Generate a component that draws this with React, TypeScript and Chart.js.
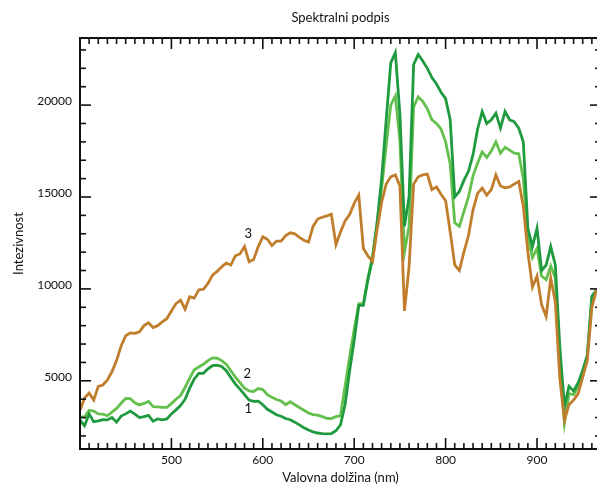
import React, { useEffect, useRef } from "react";
import { Chart, registerables } from "chart.js";
Chart.register(...registerables);

const wavelengths = [
  400, 405, 410, 415, 420, 425, 430, 435, 440, 445, 450, 455, 460, 465, 470, 475, 480, 485, 490, 495,
  500, 505, 510, 515, 520, 525, 530, 535, 540, 545, 550, 555, 560, 565, 570, 575, 580, 585, 590, 595,
  600, 605, 610, 615, 620, 625, 630, 635, 640, 645, 650, 655, 660, 665, 670, 675, 680, 685, 690, 695,
  700, 705, 710, 715, 720, 725, 730, 735, 740, 745, 750, 755, 760, 765, 770, 775, 780, 785, 790, 795,
  800, 805, 810, 815, 820, 825, 830, 835, 840, 845, 850, 855, 860, 865, 870, 875, 880, 885, 890, 895,
  900, 905, 910, 915, 920, 925, 930, 935, 940, 945, 950, 955, 960, 965,
];

// series 1 (dark green)
const series1 = [
  2860, 2550, 3200, 2770, 2820, 2880, 2870, 3000, 2750, 3080, 3200, 3350, 3190, 3000, 3050, 3120, 2800, 2930, 2880, 2930,
  3200, 3420, 3650, 4000, 4600, 5100, 5400, 5410, 5650, 5830, 5850, 5780, 5550, 5180, 4820, 4550, 4250, 3950, 3880, 3890,
  3700, 3450, 3300, 3150, 3070, 2950, 2880, 2750, 2600, 2450, 2320, 2220, 2160, 2130, 2110, 2130, 2280, 2600, 3700, 5550,
  7200, 9100, 9100, 10500, 11600, 13600, 16000, 19200, 22300, 22850, 19500, 13400, 15000, 22200, 22750, 22400, 22000, 21500, 21150, 20700,
  20350, 19200, 15000, 15300, 15900, 16400, 17300, 18700, 19650, 19000, 19200, 19560, 18750, 19650, 19200, 19100, 18750, 18000, 13300, 12300,
  13300, 11000, 11300, 12300, 11300, 6800, 3600, 4700, 4450, 4900, 5580, 6400, 9600, 9940,
];

// series 2 (light green)
const series2 = [
  3040, 3040, 3400, 3350, 3200, 3190, 3100, 3300, 3500, 3780, 4040, 4030, 3800, 3690, 3770, 3880, 3590, 3580, 3560, 3560,
  3760, 4000, 4200, 4650, 5150, 5600, 5750, 5900, 6100, 6250, 6230, 6100, 5900, 5550, 5200, 4900, 4600, 4450, 4420, 4580,
  4520, 4250, 4100, 3980, 3900, 3700, 3860, 3700, 3550, 3400, 3250, 3160, 3130, 3050, 2960, 2950, 3050, 3100, 4700, 6300,
  7800, 9200, 9200, 10600, 11800, 13500, 15500, 17800, 20000, 20500, 18050, 12000, 13400, 19900, 20450, 20200, 19800, 19200, 19000, 18700,
  18000, 16800, 13600, 13400, 14200, 15000, 16150, 16850, 17450, 17150, 17500, 18000, 17380, 17700, 17550, 17380, 17350, 16000, 12800, 11700,
  12200, 10700, 10500, 11250, 10600, 6000, 2700, 4300, 4250, 4700, 5400, 6300, 9500, 9900,
];

// series 3 (brown)
const series3 = [
  3400, 4060, 4330, 3950, 4700, 4770, 5050, 5500, 6100, 6900, 7450, 7610, 7580, 7670, 8000, 8160, 7900, 8000, 8200, 8380,
  8800, 9200, 9390, 8900, 9580, 9500, 9950, 9980, 10300, 10750, 10950, 11200, 11400, 11300, 11800, 11900, 12300, 11480, 11600, 12300,
  12840, 12700, 12350, 12600, 12600, 12900, 13050, 13000, 12800, 12650, 12550, 13400, 13800, 13900, 13970, 14070, 12400, 13100, 13700, 14050,
  14650, 15100, 12200, 11800, 11500, 13200, 14700, 15700, 16100, 16200, 15600, 8800, 11200, 15700, 16100, 16200, 16250, 15400, 15550, 15150,
  14800, 13100, 11300, 11000, 12000, 12900, 14300, 15200, 15480, 15100, 15400, 16200, 15600, 15500, 15550, 15700, 15850, 14500, 12000, 10100,
  10700, 9150, 8500, 10580, 9300, 5100, 2860, 3700, 3950, 4300, 5200, 6100, 9000, 9940,
];

const seriesNames = ["1", "2", "3"];
const seriesColors = ["#1f9a3f", "#64c04c", "#c07d2c"];
const nameX = [584, 583, 584];
const nameY = [3450, 5370, 12990];

const xMajorTicks = [500, 600, 700, 800, 900];
const yMajorTicks = [5000, 10000, 15000, 20000];
const xMinorStep = 10;
const yMinorStep = 1000;

const FONT = "Lato";
const TEXT = "#111";

const framePlugin = {
  id: "frameTicks",
  afterDraw(chart: any) {
    const { ctx, chartArea, scales } = chart;
    const { left, right, top, bottom } = chartArea;
    const x = scales.x;
    const y = scales.y;
    ctx.save();
    ctx.strokeStyle = "#111";
    ctx.lineWidth = 1.6;
    const line = (x1: number, y1: number, x2: number, y2: number) => {
      ctx.beginPath();
      ctx.moveTo(x1, y1);
      ctx.lineTo(x2, y2);
      ctx.stroke();
    };
    for (let v = Math.ceil(x.min / xMinorStep) * xMinorStep; v <= x.max; v += xMinorStep) {
      const px = x.getPixelForValue(v);
      const len = xMajorTicks.includes(v) ? 11 : 6;
      line(px, bottom, px, bottom - len);
      line(px, top, px, top + len);
    }
    for (let v = Math.ceil(y.min / yMinorStep) * yMinorStep; v <= y.max; v += yMinorStep) {
      const py = y.getPixelForValue(v);
      const len = yMajorTicks.includes(v) ? 11 : 6;
      line(left, py, left + len, py);
      line(right, py, right - len, py);
    }
    ctx.lineWidth = 2;
    ctx.strokeRect(left, top, right - left, bottom - top);
    // series names
    ctx.fillStyle = TEXT;
    ctx.font = `13px ${FONT}`;
    ctx.textAlign = "center";
    ctx.textBaseline = "middle";
    seriesNames.forEach((n, i) => {
      ctx.fillText(n, x.getPixelForValue(nameX[i]), y.getPixelForValue(nameY[i]));
    });
    ctx.restore();
  },
};

export default function App() {
  const ref = useRef<HTMLCanvasElement | null>(null);
  useEffect(() => {
    document.body.style.margin = "0";
    const canvas = ref.current!;
    const mk = (vals: number[]) => wavelengths.map((w, i) => ({ x: w, y: vals[i] }));
    const chart = new Chart(canvas, {
      type: "line",
      data: {
        datasets: [
          { label: seriesNames[2], data: mk(series3), borderColor: seriesColors[2], order: 0 },
          { label: seriesNames[0], data: mk(series1), borderColor: seriesColors[0], order: 1 },
          { label: seriesNames[1], data: mk(series2), borderColor: seriesColors[1], order: 2 },
        ].map((d) => ({ ...d, borderWidth: 2.8, pointRadius: 0, tension: 0, fill: false })),
      },
      options: {
        responsive: false,
        animation: false,
        devicePixelRatio: 1,
        layout: { padding: { left: 0, right: 2, top: 0, bottom: 0 } },
        plugins: {
          legend: { display: false },
          tooltip: { enabled: false },
          title: {
            display: true,
            text: "Spektralni podpis",
            fullSize: false,
            color: TEXT,
            font: { family: FONT, size: 13, weight: "normal" },
            padding: { top: 10, bottom: 12.4 },
          },
        },
        scales: {
          x: {
            type: "linear",
            min: 400,
            max: 970,
            grid: { display: false, drawTicks: false },
            border: { display: false },
            afterBuildTicks: (s: any) => {
              s.ticks = xMajorTicks.map((v) => ({ value: v }));
            },
            afterFit: (s: any) => {
              s.height = 37;
            },
            ticks: {
              color: TEXT,
              font: { family: FONT, size: 12 },
              padding: 4,
              maxRotation: 0,
              autoSkip: false,
            },
            title: {
              display: true,
              text: "Valovna dolžina (nm)",
              color: TEXT,
              font: { family: FONT, size: 13 },
              padding: { top: 0, bottom: 0 },
            },
          },
          y: {
            type: "linear",
            min: 1290,
            max: 23650,
            grid: { display: false, drawTicks: false },
            border: { display: false },
            afterBuildTicks: (s: any) => {
              s.ticks = yMajorTicks.map((v) => ({ value: v }));
            },
            afterFit: (s: any) => {
              s.width = 80;
            },
            ticks: {
              color: TEXT,
              font: { family: FONT, size: 12 },
              padding: 8,
              labelOffset: -4,
              autoSkip: false,
              callback: (v: any) => String(v),
            },
            title: {
              display: true,
              text: "Intezivnost",
              color: TEXT,
              font: { family: FONT, size: 13 },
              padding: { top: 11, bottom: 0 },
            },
          },
        },
      },
      plugins: [framePlugin],
    });
    return () => chart.destroy();
  }, []);
  return (
    <div style={{ width: 597, height: 486, overflow: "hidden", background: "#fff" }}>
      <canvas ref={ref} width={603} height={486} style={{ display: "block", width: 603, height: 486 }} />
    </div>
  );
}
